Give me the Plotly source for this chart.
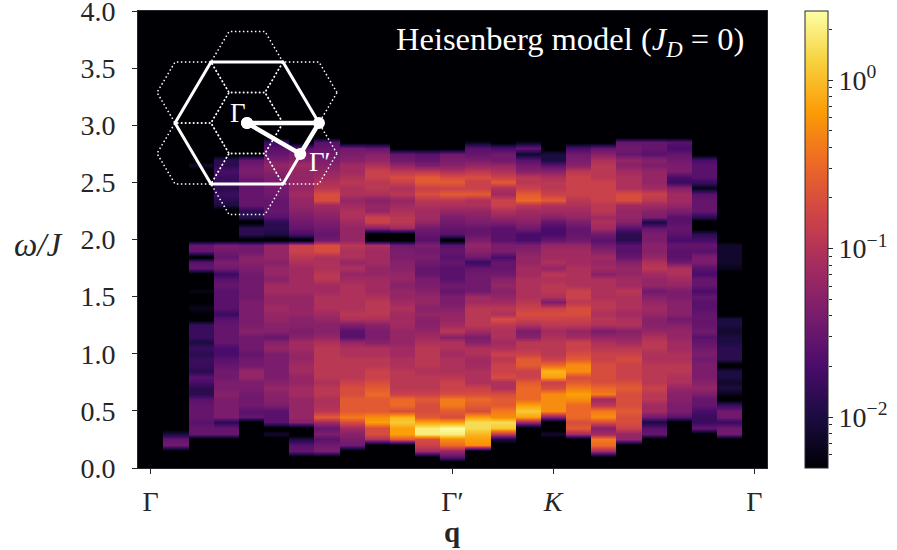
import numpy as np
import plotly.graph_objects as go

# Spectral weight in dB (10*log10 S) per q column.
# *_low: ascending in omega, ending at omega=2.00 (step 0.05)
# *_high: descending in omega, ending at omega=2.05
low = {
 1: [-14,-15,-20] + [-24]*34,
 2: [-15,-15,-16,-15,-15,-15,-16,-19,-19,-17,-16,-19,-18,-18,-19,-18,-20,-18,-18,-18,-24,-23,-22,-23,-24,-22,-24,-23,-24,-15,-16,-24,-15,-15,-24],
 3: [-15,-15,-19,-13,-13,-13,-13,-12,-13,-13,-14,-14,-15,-16,-17,-17,-15,-15,-15,-15,-16,-18,-16,-16,-16,-16,-15,-16,-18,-14,-13,-15,-14,-13,-24],
 4: [-15,-16,-14,-14,-14,-13,-13,-11,-11,-14,-14,-15,-14,-14,-14,-12,-13,-13,-13,-13,-13,-14,-14,-14,-14,-14,-13,-12,-12,-14,-14,-24],
 5: [-21,-24,-16,-16,-16,-13,-12,-12,-11,-12,-13,-13,-13,-13,-13,-11,-12,-15,-12,-12,-11,-11,-10,-11,-11,-10,-10,-12,-11,-11,-12,-11,-11,-11,-24],
 6: [-15,-16,-20,-24,-24,-12,-11,-11,-11,-11,-10,-10,-11,-11,-10,-10,-11,-11,-10,-10,-12,-13,-12,-12,-11,-11,-11,-11,-10,-10,-10,-10,-10,-9,-8,-7,-7,-24],
 7: [-13,-14,-16,-13,-15,-10,-5,-8,-9,-9,-8,-8,-9,-8,-8,-8,-8,-8,-8,-9,-11,-12,-12,-11,-10,-9,-9,-9,-10,-10,-8,-8,-9,-9,-9,-6,-6,-14],
 8: [-14,-13,-12,-10,-6,-3,-5,-5,-5,-6,-6,-7,-8,-8,-8,-8,-9,-9,-11,-16,-16,-13,-9,-8,-9,-9,-9,-9,-9,-10,-11,-9,-11,-9,-9,-8,-11],
 9: [-9,-6,-6,-1,-2,-5,-5,-5,-4,-5,-6,-7,-7,-8,-8,-9,-9,-12,-13,-13,-12,-9,-8,-8,-8,-9,-10,-10,-10,-11,-11,-10,-10,-10,-9,-24],
 10: [-5,-1,-1,1,0,-6,-4,-4,-7,-8,-8,-8,-8,-9,-9,-10,-10,-11,-11,-11,-10,-10,-10,-9,-10,-11,-11,-12,-11,-11,-12,-12,-13,-13,-14,-24],
 11: [-10,-7,-6,3,3,-1,-5,-6,-6,-5,-7,-8,-8,-8,-9,-8,-8,-8,-8,-9,-10,-11,-12,-12,-11,-12,-11,-11,-12,-13,-13,-15,-15,-14,-13,-14,-13,-16],
 12: [-16,-11,-4,-2,3,4,-1,-6,-5,-3,-3,-6,-7,-7,-8,-9,-9,-9,-10,-9,-9,-12,-8,-10,-11,-11,-12,-13,-13,-15,-14,-16,-16,-16,-15,-16,-15,-16,-24],
 13: [-2,-1,0,2,2,-1,-6,-5,-4,-6,-7,-9,-9,-9,-10,-10,-9,-9,-12,-13,-10,-8,-8,-8,-8,-10,-10,-14,-14,-14,-14,-15,-18,-14,-12,-11,-13],
 14: [-20,-8,1,2,-2,-3,-5,-5,-6,-9,-9,-6,-7,-7,-8,-7,-9,-10,-9,-9,-8,-6,-9,-8,-10,-11,-12,-11,-12,-14,-15,-15,-17,-13,-13,-16],
 15: [-10,-1,1,-1,-4,-4,-4,-5,-7,-7,-5,-5,-7,-8,-8,-12,-13,-9,-7,-6,-7,-8,-9,-9,-9,-9,-10,-10,-11,-11,-12,-13,-17],
 16: [-21,-24,-24,-12,-2,-2,-2,-2,-6,-7,-1,0,-4,-7,-8,-8,-8,-9,-10,-8,-7,-6,-7,-13,-9,-8,-8,-9,-8,-11,-9,-10,-10,-11,-15],
 17: [-10,-5,-6,-4,-4,-4,-2,-1,-3,-5,-6,-2,-2,-5,-6,-7,-7,-10,-11,-8,-7,-6,-6,-8,-7,-7,-9,-9,-9,-9,-10,-10,-10,-11,-14],
 18: [-10,-4,-3,-10,-12,-6,-2,-3,-8,-10,-3,-4,-6,-6,-6,-6,-7,-7,-8,-9,-11,-13,-9,-8,-9,-8,-8,-9,-9,-9,-9,-12,-10,-11,-10,-12,-14,-16],
 19: [-11,-11,-7,-6,-6,-5,-6,-6,-6,-5,-6,-7,-7,-7,-6,-7,-8,-10,-11,-12,-9,-9,-10,-9,-9,-9,-8,-10,-10,-11,-11,-12,-15,-16,-16,-19],
 20: [-15,-16,-20,-14,-10,-10,-8,-8,-7,-8,-8,-8,-8,-9,-9,-8,-8,-9,-11,-12,-12,-11,-10,-11,-12,-14,-11,-11,-10,-8,-9,-11,-12,-12,-13],
 21: [-16,-13,-13,-12,-12,-11,-9,-9,-8,-8,-9,-9,-10,-10,-11,-11,-12,-14,-12,-12,-12,-13,-13,-11,-10,-9,-9,-14,-16,-16,-15,-17],
 22: [-15,-18,-18,-17,-15,-15,-13,-11,-12,-13,-13,-13,-14,-13,-14,-15,-16,-14,-15,-15,-15,-16,-16,-15,-17,-15,-15,-17,-16,-13,-13,-16,-15,-17],
 23: [-14,-14,-18,-14,-14,-18,-24,-22,-20,-21,-20,-20,-24,-19,-19,-19,-20,-20,-21,-20,-20,-24,-24,-24,-24,-24,-24,-24,-24,-22,-21,-21,-21,-21,-24],
}
high = {
 2: [-21,-24,-24,-24,-24,-24,-24,-24,-24,-24,-24,-24,-24],
 3: [-19,-19,-17,-18,-18,-19,-18,-19,-20,-24,-24,-24,-24,-24],
 4: [-15,-14,-13,-14,-15,-15,-15,-15,-15,-19,-19,-24,-19,-19],
 5: [-18,-16,-15,-13,-11,-12,-13,-13,-14,-14,-15,-15,-15,-16,-19,-19,-20],
 6: [-16,-13,-12,-10,-11,-11,-11,-11,-10,-11,-11,-12,-13,-14,-15,-17],
 7: [-16,-15,-14,-13,-12,-11,-10,-9,-8,-6,-6,-10,-11,-12,-13,-14,-15],
 8: [-14,-13,-12,-10,-10,-9,-8,-9,-9,-11,-10,-9,-9,-10,-11,-11],
 9: [-15,-12,-11,-9,-7,-7,-8,-8,-9,-12,-11,-11,-7,-7,-12,-24],
 10: [-15,-14,-11,-8,-6,-7,-9,-8,-11,-10,-9,-8,-8,-10,-24],
 11: [-16,-15,-13,-8,-5,-5,-7,-6,-8,-9,-10,-10,-11,-14,-15],
 12: [-14,-13,-12,-9,-6,-5,-7,-5,-8,-9,-11,-13,-14,-15,-16],
 13: [-22,-16,-15,-13,-11,-8,-6,-7,-7,-5,-9,-9,-11,-12,-13,-15,-15],
 14: [-17,-14,-14,-11,-9,-7,-5,-9,-10,-7,-7,-9,-11,-13,-16,-16],
 15: [-22,-15,-21,-16,-14,-12,-8,-8,-7,-5,-4,-8,-10,-11,-12,-14,-17],
 16: [-24,-20,-20,-16,-12,-9,-8,-8,-7,-5,-9,-10,-12,-15,-17,-17],
 17: [-17,-14,-13,-12,-8,-7,-7,-7,-7,-8,-9,-10,-11,-13,-15,-15],
 18: [-15,-12,-9,-8,-8,-8,-7,-7,-7,-7,-8,-8,-10,-9,-10,-14],
 19: [-15,-14,-15,-11,-12,-10,-9,-9,-9,-6,-6,-10,-11,-11,-12,-16,-19],
 20: [-15,-15,-16,-12,-13,-11,-11,-11,-10,-7,-8,-10,-12,-13,-20,-15,-13],
 21: [-16,-17,-15,-14,-13,-13,-17,-18,-12,-10,-10,-11,-13,-16,-16,-15,-16],
 22: [-17,-16,-16,-16,-18,-22,-16,-15,-15,-15,-19,-24,-24,-19],
}
# Correction of my colour readings (read dB -> calibrated dB)
read_db = [-24, -16, -12, -8, -4, 0, 4]
true_db = [-24, -16, -13, -9.5, -5, -0.5, 4]

q_count = 25
omega = np.arange(81) * 0.05           # 0.00 ... 4.00
q_tick_vals = [0, 12, 16, 24]
q_tick_text = ["Γ", "Γ′", "<i>K</i>", "Γ"]
omega_ticks = [0, 0.5, 1, 1.5, 2, 2.5, 3, 3.5, 4]
cbar_major = [0.01, 0.1, 1]
cbar_major_text = ["10<sup>−2</sup>", "10<sup>−1</sup>", "10<sup>0</sup>"]
cbar_minor = [0.006, 0.007, 0.008, 0.009, 0.02, 0.03, 0.04, 0.05, 0.06, 0.07, 0.08, 0.09,
              0.2, 0.3, 0.4, 0.5, 0.6, 0.7, 0.8, 0.9, 2]
vmin, vmax = 0.005, 2.57
FLOOR = -24

grid = np.full((81, q_count), float(FLOOR))
for k, vals in low.items():
    grid[40 - len(vals) + 1:41, k] = vals      # row 40 is omega=2.00
for k, vals in high.items():
    asc = vals[::-1]
    grid[41:41 + len(asc), k] = asc
grid = np.interp(grid, read_db, true_db)
z = np.repeat(grid / 10.0, 2, axis=1)
edge = 0.012
x = np.ravel([[k - 0.5 + edge, k + 0.5 - edge] for k in range(q_count)])

hex_x = [1, 0.5, -0.5, -1, -0.5, 0.5, 1]
hex_y = [0, 0.866, 0.866, 0, -0.866, -0.866, 0]
zone_cx = [0, 0, 0, 0.75, 0.75, -0.75, -0.75]
zone_cy = [0, 0.866, -0.866, 0.433, -0.433, 0.433, -0.433]
zone_r = 0.5
path_x = [0, 1, 0.74, 0]
path_y = [0, 0, -0.44, 0]

INK = "#262626"
FONT = "Liberation Serif"
L, R, T, B = 138, 69, 11, 82
PW = 897 - L - R
PH = 550 - T - B
MW = 629

fig = go.Figure()
fig.add_trace(go.Heatmap(
    x=x, y=omega, z=z, zmin=np.log10(vmin), zmax=np.log10(vmax),
    colorscale="Inferno", zsmooth="best", hoverinfo="skip",
    colorbar=dict(
        x=(805 - L) / PW, xanchor="left", xpad=0, y=0.5, yanchor="middle", ypad=0,
        thickness=23, thicknessmode="pixels", len=1, lenmode="fraction",
        outlinecolor=INK, outlinewidth=1,
        tickmode="array", tickvals=np.log10(cbar_major), ticktext=cbar_major_text,
        ticks="outside", ticklen=5, tickwidth=1, tickcolor=INK,
        tickfont=dict(family=FONT, size=28, color=INK),
    ),
))
fig.add_trace(go.Scatter(x=[None], y=[None], xaxis="x", yaxis="y2", showlegend=False, hoverinfo="skip"))

for cx, cy in zip(zone_cx, zone_cy):
    fig.add_trace(go.Scatter(
        x=[cx + zone_r * a for a in hex_x], y=[cy + zone_r * b for b in hex_y],
        xaxis="x3", yaxis="y3", mode="lines", showlegend=False, hoverinfo="skip",
        line=dict(color="white", width=1.5, dash="1.5px,2.5px"),
    ))
fig.add_trace(go.Scatter(x=hex_x, y=hex_y, xaxis="x3", yaxis="y3", mode="lines",
                         showlegend=False, hoverinfo="skip",
                         line=dict(color="white", width=3)))
fig.add_trace(go.Scatter(x=path_x, y=path_y, xaxis="x3", yaxis="y3", mode="lines+markers",
                         showlegend=False, hoverinfo="skip",
                         line=dict(color="white", width=4.5),
                         marker=dict(color="white", size=12)))

ax_common = dict(showgrid=False, zeroline=False, showline=True, linecolor=INK, linewidth=1,
                 mirror=True, ticks="outside", tickcolor=INK, tickwidth=1, ticklen=5,
                 ticklabeloverflow="allow",
                 tickfont=dict(family=FONT, size=28, color=INK))
ann = lambda **k: dict(showarrow=False, **k)
fig.update_layout(
    width=897, height=550, autosize=False,
    margin=dict(l=L, r=R, t=T, b=B, pad=0, autoexpand=False),
    paper_bgcolor="white", plot_bgcolor="rgba(0,0,0,0)", showlegend=False,
    xaxis=dict(domain=[0, MW / PW], range=[-0.5, 24.5], tickmode="array",
               tickvals=q_tick_vals, ticktext=q_tick_text, ticklabelstandoff=3, **ax_common),
    yaxis=dict(range=[0, 4], tickmode="array", tickvals=omega_ticks, ticklabelstandoff=11,
               ticktext=[f"{v:.1f}" for v in omega_ticks], **ax_common),
    yaxis2=dict(overlaying="y", side="right", anchor="free", position=1.0, type="log",
                range=[np.log10(vmin), np.log10(vmax)], showgrid=False, zeroline=False,
                showline=False, ticks="outside", ticklen=3, tickwidth=1, tickcolor=INK,
                tickmode="array", tickvals=cbar_minor, showticklabels=False),
    xaxis3=dict(domain=[(155 - L) / PW, (340 - L) / PW], range=[-1.278, 1.292],
                visible=False, anchor="y3"),
    yaxis3=dict(domain=[(468 - 220) / PH, (468 - 20) / PH], range=[-1.378, 1.463],
                visible=False, anchor="x3"),
    annotations=[
        ann(xref="paper", yref="paper", x=(746 - L) / PW, y=(468 - 41) / PH, xanchor="right", yanchor="middle",
            text="Heisenberg model (<i>J<sub>D</sub></i> = 0)",
            font=dict(family=FONT, size=32.5, color="white")),
        ann(xref="x3", yref="y3", x=-0.13, y=0.14, text="Γ", xanchor="center", yanchor="middle",
            font=dict(family=FONT, size=27, color="white")),
        ann(xref="x3", yref="y3", x=1.31, y=0.0, text="<i>K</i>", xanchor="center", yanchor="middle",
            font=dict(family=FONT, size=27, color="white")),
        ann(xref="x3", yref="y3", x=1.02, y=-0.56, text="Γ′", xanchor="center", yanchor="middle",
            font=dict(family=FONT, size=27, color="white")),
        ann(xref="paper", yref="paper", x=(38 - L) / PW, y=(468 - 245) / PH, text="<i>ω/J</i>",
            xanchor="center", yanchor="middle", font=dict(family=FONT, size=33, color=INK)),
        ann(xref="paper", yref="paper", x=(452 - L) / PW, y=(468 - 532) / PH, text="<b>q</b>",
            xanchor="center", yanchor="middle", font=dict(family=FONT, size=29, color=INK)),
    ],
)
fig.write_html("out.html", config=dict(displayModeBar=False),
               post_script="document.body.style.margin='0';document.body.style.overflow='hidden';")
